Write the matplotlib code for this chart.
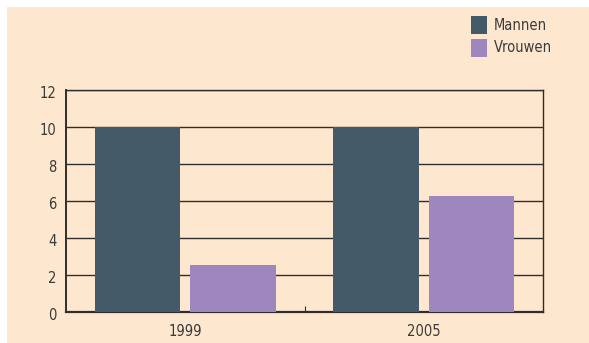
import matplotlib
matplotlib.use('Agg')
import matplotlib.pyplot as plt
import matplotlib.transforms as mtransforms
import numpy as np
from matplotlib.patches import Rectangle

years = ['1999', '2005']
mannen = [10, 10]
vrouwen = [2.55, 6.25]
yticks = [0, 2, 4, 6, 8, 10, 12]

bg = '#fee7cf'
c_man = '#455a69'
c_vrouw = '#9d87be'
txt = '#3a3a3a'

plt.rcParams['font.family'] = 'DejaVu Sans'
plt.rcParams['font.stretch'] = 'condensed'

fig = plt.figure(figsize=(5.89, 3.43), dpi=100)
fig.patch.set_facecolor('white')
fig.patches.append(Rectangle((7 / 589, 0), 1, 1 - 7 / 343, transform=fig.transFigure,
                             facecolor=bg, edgecolor='none', zorder=-5))

ax = fig.add_axes([66 / 589, 1 - 312 / 343, 477 / 589, 222 / 343])
ax.set_facecolor(bg)

x = np.arange(len(years))
w = 0.36
ax.bar(x - 0.2, mannen, w, color=c_man, label='Mannen', zorder=3)
ax.bar(x + 0.2, vrouwen, w, color=c_vrouw, label='Vrouwen', zorder=3)

ax.set_xlim(-0.5, 1.5)
ax.set_ylim(0, 12)
ax.set_yticks(yticks)
ax.yaxis.grid(True, color='#2e2e2e', linewidth=1.0, zorder=1)
ax.set_axisbelow(True)
ax.tick_params(axis='y', length=0, pad=7, labelsize=10.5, labelcolor=txt)

# nudge y labels a little lower
shift = mtransforms.ScaledTranslation(0, -2 / 100, fig.dpi_scale_trans)
for lab in ax.get_yticklabels():
    lab.set_transform(lab.get_transform() + shift)

# category labels in the middle, one small tick between the groups
ax.set_xticks([0.5])
ax.set_xticklabels([''])
ax.set_xticks(x, minor=True)
ax.set_xticklabels(years, minor=True)
ax.tick_params(axis='x', which='major', direction='in', length=4, width=0.8, color='#2e2e2e')
ax.tick_params(axis='x', which='minor', length=0, pad=9, labelsize=10.5, labelcolor=txt)

for s in ax.spines.values():
    s.set_color('#2e2e2e')
    s.set_linewidth(1.0)
ax.spines['bottom'].set_linewidth(1.6)
ax.spines['left'].set_linewidth(1.4)

fig.legend(loc='upper left', bbox_to_anchor=(465 / 589, 1 - 10 / 343), frameon=False,
           fontsize=10.5, handlelength=1.1, handleheight=1.5, handletextpad=0.5,
           labelspacing=0.35, labelcolor=txt, borderaxespad=0)

fig.savefig('out.png', dpi=100, facecolor=fig.get_facecolor())
